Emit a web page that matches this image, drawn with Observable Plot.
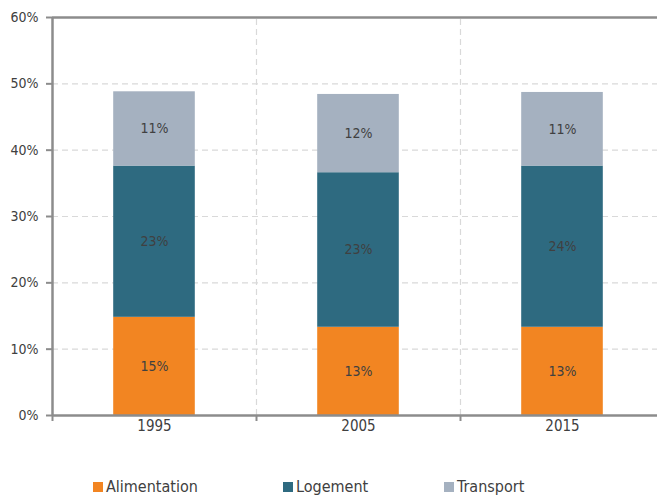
<!DOCTYPE html>
<html><head><meta charset="utf-8">
<script src="https://cdn.jsdelivr.net/npm/d3@7"></script>
<script src="https://cdn.jsdelivr.net/npm/@observablehq/plot@0.6"></script>
<style>
body{margin:0;background:#fff;overflow:hidden;font-family:"DejaVu Sans Condensed","DejaVu Sans",sans-serif;}
#wrap{position:relative;width:657px;height:496px;}
#legend{position:absolute;top:477px;left:0;width:657px;height:19px;font-size:16px;color:#404040;}
.item{position:absolute;top:0;display:flex;align-items:center;white-space:nowrap;}
.sw{width:10px;height:10px;margin-right:3px;display:inline-block;}
</style>
</head><body>
<div id="wrap"><div id="chart"></div><div id="legend"></div></div>
<script>
const years = ["1995", "2005", "2015"];
const series = ["Alimentation", "Logement", "Transport"];
const alimentation = [14.8, 13.3, 13.3];
const logement = [22.8, 23.3, 24.3];
const transport = [11.2, 11.8, 11.1];
const alimentationLabels = ["15%", "13%", "13%"];
const logementLabels = ["23%", "23%", "24%"];
const transportLabels = ["11%", "12%", "11%"];
const yTicks = [0, 10, 20, 30, 40, 50, 60];
const colors = ["#F28522", "#2E6A80", "#A5B1C0"];
const legendX = [93, 283, 444];

const values = [alimentation, logement, transport];
const labels = [alimentationLabels, logementLabels, transportLabels];
const rows = [];
years.forEach((yr, i) => {
  let base = 0;
  series.forEach((s, k) => {
    const v = values[k][i];
    rows.push({year: yr, series: s, x1: i + 0.3, x2: i + 0.7, xm: i + 0.5, y1: base, y2: base + v, ym: base + v / 2, label: labels[k][i]});
    base += v;
  });
});

const gray = "#8c8c8c";
const font = '"DejaVu Sans Condensed", "DejaVu Sans", sans-serif';
const chart = Plot.plot({
  width: 657, height: 450,
  marginLeft: 52, marginRight: 0, marginTop: 17, marginBottom: 35,
  style: {fontFamily: font, fontSize: "14px", color: "#404040", background: "#fff"},
  x: {domain: [0, 3], range: [52, 664], axis: null},
  y: {domain: [0, 60], axis: null},
  color: {domain: series, range: colors},
  marks: [
    Plot.ruleY(yTicks.filter(t => t > 0 && t < 60), {stroke: "#d9d9d9", strokeDasharray: "6,4", strokeWidth: 1.2}),
    Plot.ruleX([1, 2], {y1: 0, y2: 60, stroke: "#d9d9d9", strokeDasharray: "6,4", strokeWidth: 1.2}),
    Plot.rectY(rows, {x1: "x1", x2: "x2", y1: "y1", y2: "y2", fill: "series"}),
    Plot.text(rows, {x: "xm", y: "ym", text: "label", fill: "#404040", fontSize: 14}),
    Plot.ruleX([0], {y1: 0, y2: 60, stroke: gray, strokeWidth: 2.5}),
    Plot.ruleY([0, 60], {stroke: gray, strokeWidth: 2.5}),
    Plot.axisY(yTicks, {tickFormat: d => d + "%", tickSize: 6, tickPadding: 8, stroke: gray, strokeWidth: 2, fontSize: 14, fill: "#404040"}),
    Plot.axisX([0, 1, 2, 3], {tickFormat: () => "", tickSize: 6, stroke: gray, strokeWidth: 2}),
    Plot.axisX([0.5, 1.5, 2.5], {tickFormat: d => years[Math.floor(d)], tickSize: 0, tickPadding: 5, fontSize: 15, fill: "#404040"})
  ]
});
document.getElementById("chart").appendChild(chart);

const legend = document.getElementById("legend");
series.forEach((s, k) => {
  const it = document.createElement("div");
  it.className = "item";
  it.style.left = legendX[k] + "px";
  it.innerHTML = `<span class="sw" style="background:${colors[k]}"></span><span>${s}</span>`;
  legend.appendChild(it);
});
</script>
</body></html>
